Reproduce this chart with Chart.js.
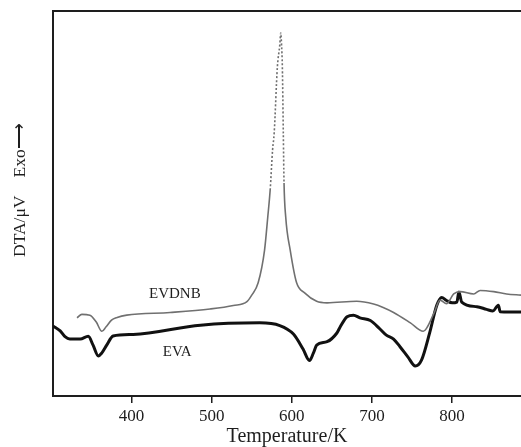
<!DOCTYPE html>
<html>
<head>
<meta charset="utf-8">
<script src="https://cdn.jsdelivr.net/npm/chart.js@4"></script>
<style>
  html, body { margin: 0; padding: 0; background: #fff; }
  #wrap { width: 521px; height: 447px; position: relative; }
</style>
</head>
<body>
<div id="wrap"><canvas id="dtaChart"></canvas></div>
<script>
// Temperatura (K) e sinal DTA (unidades arbitrárias, 0-100)
const evdnbTemp = [332, 338, 348, 356, 363, 368, 375, 382, 394, 448, 498, 527, 544, 550, 558, 566, 570, 573, 576, 578, 582, 585, 586.2,
  587.2, 588.2, 589.4, 590.3, 592.4, 598, 606, 616, 631, 644, 681, 702, 714, 727, 748, 764, 777, 785, 793, 802, 810, 827, 835, 852, 868, 886];
const evdnbSignal = [20.3, 21.2, 21.0, 19.2, 16.8, 17.9, 19.7, 20.4, 21.0, 21.7, 22.6, 23.5, 24.5, 26.2, 29.4, 37.9, 46.5, 53.5, 63.9, 68.3, 85.5, 91.2, 94.3,
  91.2, 85.5, 68.3, 55.3, 46.5, 37.9, 29.4, 26.8, 24.6, 24.2, 24.6, 23.9, 23.0, 21.7, 19.0, 16.8, 21.3, 24.9, 24.0, 26.5, 27.1, 26.5, 27.4, 27.1, 26.5, 26.2];

const evaTemp = [302, 311, 317, 323, 336, 346, 352, 358.6, 363, 369, 377, 402, 486, 560, 585, 602, 614, 622, 627, 631, 644, 656, 660, 669, 677, 685,
  698, 710, 718, 727, 735, 745, 754, 762, 772, 781, 787, 793, 800, 806, 808.5, 812, 831, 843, 851, 857.8, 860, 886];
const evaSignal = [18.2, 16.9, 15.4, 14.8, 14.8, 15.5, 13.2, 10.4, 11.2, 13.2, 15.6, 16.0, 18.4, 19.0, 18.3, 16.1, 12.2, 9.2, 11.2, 13.2, 14.1, 16.3, 17.8, 20.6, 21.0, 20.3,
  19.6, 17.4, 15.8, 14.8, 12.8, 10.1, 7.8, 9.4, 16.4, 23.6, 25.6, 24.8, 24.2, 24.4, 27.0, 24.4, 23.2, 22.5, 22.1, 23.6, 21.9, 21.8];

const xTicks = [400, 500, 600, 700, 800];
const seriesNames = ['EVDNB', 'EVA'];

const serif = '"Liberation Serif", "Times New Roman", serif';
const ink = '#1e1e1e';

function toPoints(temps, values) {
  return temps.map((t, i) => ({ x: t, y: values[i] }));
}

// Rótulos das curvas e título do eixo Y
const labelsPlugin = {
  id: 'curveLabels',
  afterDraw(chart) {
    const { ctx, scales: { x, y } } = chart;
    ctx.save();
    ctx.fillStyle = ink;
    ctx.font = '15px ' + serif;
    ctx.textAlign = 'center';
    ctx.textBaseline = 'middle';
    ctx.fillText(seriesNames[0], x.getPixelForValue(454), y.getPixelForValue(26.5));
    ctx.fillText(seriesNames[1], x.getPixelForValue(457), y.getPixelForValue(11.4));

    // título vertical
    ctx.translate(20, 257);
    ctx.rotate(-Math.PI / 2);
    ctx.font = '17.5px ' + serif;
    ctx.textAlign = 'left';
    const first = 'DTA/\u03bcV';
    ctx.fillText(first, 0, 0);
    const w = ctx.measureText(first).width;
    ctx.fillText('Exo\u27f6', w + 18, 0);
    ctx.restore();
  }
};

const ctx = document.getElementById('dtaChart').getContext('2d');
window.dtaChart = new Chart(ctx, {
  type: 'scatter',
  data: {
    datasets: [{
      label: seriesNames[0],
      data: toPoints(evdnbTemp, evdnbSignal),
      showLine: true,
      borderColor: '#707070',
      borderWidth: 1.6,
      pointRadius: 0,
      cubicInterpolationMode: 'monotone',
      segment: {
        borderDash: c => (c.p0.parsed.y > 50 && c.p1.parsed.y > 50) ? [2, 2] : undefined
      }
    }, {
      label: seriesNames[1],
      data: toPoints(evaTemp, evaSignal),
      showLine: true,
      borderColor: '#111',
      borderWidth: 3,
      pointRadius: 0,
      cubicInterpolationMode: 'monotone'
    }]
  },
  options: {
    responsive: true,
    maintainAspectRatio: false,
    animation: false,
    layout: { padding: 0 },
    plugins: {
      legend: { display: false },
      tooltip: { enabled: false }
    },
    scales: {
      x: {
        type: 'linear',
        position: 'bottom',
        min: 302,
        max: 886,
        afterBuildTicks: s => { s.ticks = xTicks.map(v => ({ value: v })); },
        afterFit: s => { s.height = 51; },
        ticks: { color: ink, font: { family: serif, size: 17 }, padding: 3 },
        grid: { drawOnChartArea: false, tickLength: 7, color: ink, lineWidth: 1.5 },
        border: { color: ink, width: 2 },
        title: {
          display: true,
          text: 'Temperature/K',
          color: ink,
          font: { family: serif, size: 20, lineHeight: 1 },
          padding: { top: 0, bottom: 0 }
        }
      },
      xTop: {
        type: 'linear',
        position: 'top',
        min: 302,
        max: 886,
        afterFit: s => { s.height = 11; },
        ticks: { display: false },
        grid: { drawOnChartArea: false, drawTicks: false },
        border: { color: ink, width: 2 }
      },
      y: {
        min: 0,
        max: 100,
        afterFit: s => { s.width = 53; },
        ticks: { display: false },
        grid: { drawOnChartArea: false, drawTicks: false },
        border: { color: ink, width: 2 }
      }
    }
  },
  plugins: [labelsPlugin]
});
</script>
</body>
</html>
